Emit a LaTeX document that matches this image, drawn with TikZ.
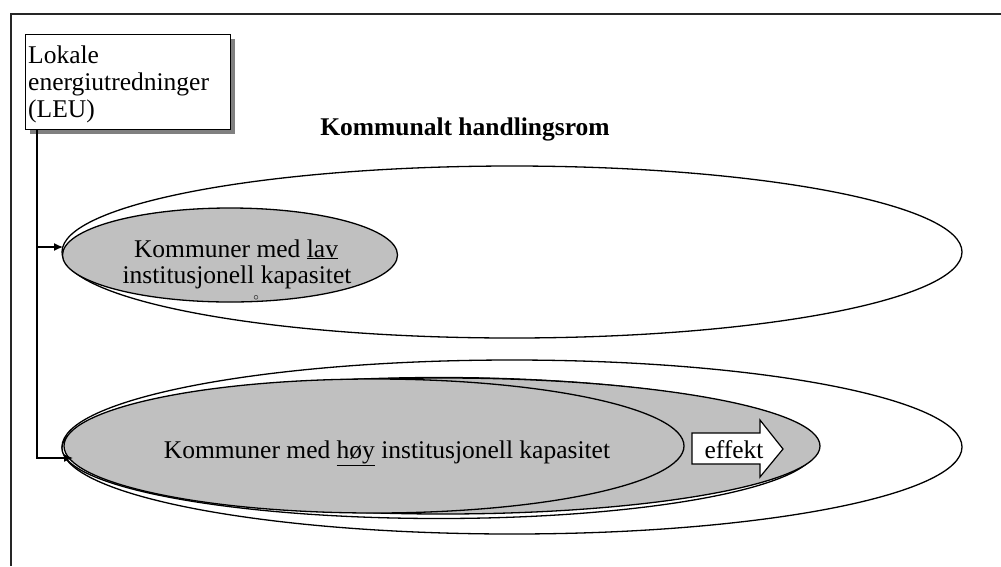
\documentclass[tikz,border=0pt]{standalone}
\usepackage{fontspec}
\setmainfont{Liberation Serif}
\usetikzlibrary{shapes.geometric,arrows.meta}
\definecolor{shade}{HTML}{C0C0C0}
\definecolor{shadowgray}{HTML}{808080}
\begin{document}
\begin{tikzpicture}[x=1pt,y=-1pt,
  txt/.style={font=\fontsize{25.5}{27}\selectfont, inner sep=0pt},
  ell/.style={ellipse, draw=black, line width=1.3pt, inner sep=0pt},
  conn/.style={line width=1.3pt, -{Latex[length=9pt,width=8pt]}},
]
\useasboundingbox (0,0) rectangle (1001,566);
\draw[line width=1.5pt, draw=black!85] (11,566) -- (11,14) -- (1001,14);

% upper space
\node[ell, fill=white, minimum width=900pt, minimum height=172pt] (raum1) at (512,252) {};
\node[ell, fill=shade, minimum width=335pt, minimum height=94pt] (lav) at (230,255) {};

% lower space
\node[ell, fill=white, minimum width=900pt, minimum height=174pt] (raum2) at (512,447) {};
\node[ell, fill=white, minimum width=754pt, minimum height=141pt] (mid) at (439,448) {};
\node[ell, fill=shade, minimum width=754pt, minimum height=136pt] (hoyeff) at (443,446) {};
\node[ell, fill=shade, minimum width=620pt, minimum height=134pt] (hoy) at (374,446) {};

% effekt arrow
\draw[line width=1.2pt, fill=white] (692,433) -- (760,433) -- (760,420) -- (783,449) -- (760,477) -- (760,464) -- (692,464) -- cycle;
\node[txt, anchor=base] (eff) at (734,458) {effekt};

% LEU box
\fill[shadowgray] (30,39) rectangle (235,134);
\node[draw, fill=white, line width=1.3pt, minimum width=205pt, minimum height=95pt, anchor=north west, inner sep=0pt] (leu) at (25,34) {};
\node[txt, anchor=base west] (leu1) at (28,63) {Lokale};
\node[txt, anchor=base west] (leu2) at (28,90) {energiutredninger};
\node[txt, anchor=base west] (leu3) at (28,117) {(LEU)};

% title
\node[txt, font=\fontsize{25.5}{27}\selectfont\bfseries, anchor=base] (title) at (465,135) {Kommunalt handlingsrom};

% texts
\node[txt, anchor=base] (lav1) at (236,257) {Kommuner med \underline{lav}};
\node[txt, anchor=base] (lav2) at (237,283) {institusjonell kapasitet};
\node[inner sep=0pt, font=\fontsize{11}{11}\selectfont] (lavmark) at (256,298) {$\circ$};
\node[txt, anchor=base] (hoytxt) at (387,458) {Kommuner med \underline{høy} institusjonell kapasitet};

% connectors
\coordinate (leuout) at ([xshift=12pt]leu.south west);
\coordinate (tip1) at (63,247);
\coordinate (tip2) at (73,458);
\draw[conn] (leuout) |- (tip1);
\draw[conn] (leuout) |- (tip2);
\end{tikzpicture}
\end{document}
